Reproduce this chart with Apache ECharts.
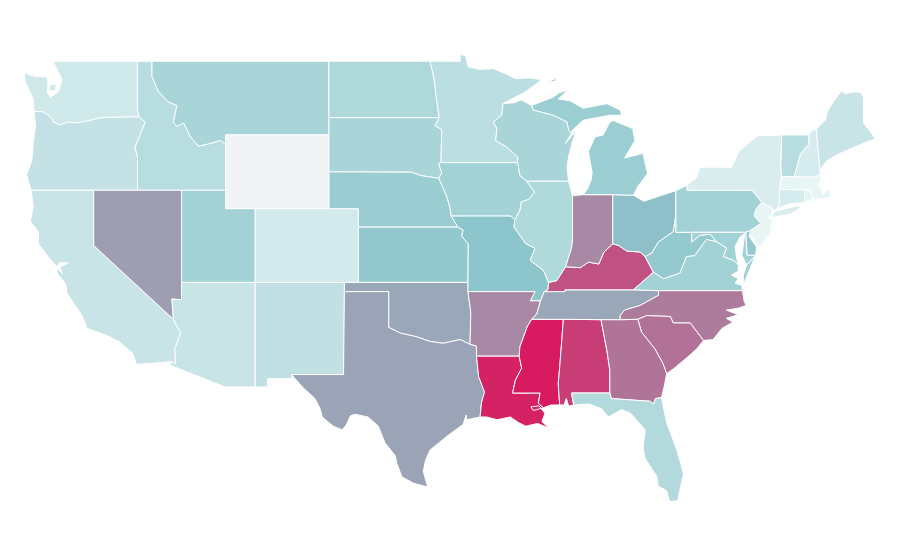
<!DOCTYPE html>
<html>
<head>
<meta charset="utf-8">
<title>US states</title>
<style>
  html, body { margin: 0; padding: 0; background: #fff; }
  #main { width: 900px; height: 560px; }
</style>
<script src="https://cdn.jsdelivr.net/npm/echarts@6/dist/echarts.min.js"></script>
</head>
<body>
<div id="main"></div>
<script>
// values read off the shading of each state, Wyoming has no value
var stateNames = ['Washington','Oregon','California','Idaho','Nevada','Montana','Wyoming','Utah','Colorado','Arizona',
  'New Mexico','North Dakota','South Dakota','Nebraska','Kansas','Oklahoma','Texas','Minnesota','Iowa','Missouri',
  'Arkansas','Louisiana','Mississippi','Alabama','Tennessee','Kentucky','Illinois','Indiana','Ohio','Michigan',
  'Wisconsin','West Virginia','Virginia','North Carolina','South Carolina','Georgia','Florida','Pennsylvania','New York','Vermont',
  'New Hampshire','Maine','Massachusetts','Connecticut','Rhode Island','New Jersey','Delaware','Maryland'];
var stateValues = [15,21,19,27,62,35,null,38,13,19,
  23,32,35,43,47,59,60,26,38,50,
  68,98,100,90,59,84,31,68,52,42,
  35,46,38,72,75,74,30,38,10,27,
  11,19,2,12,4,2,46,38];
var scaleColors = ['#ecf7f7','#8cc6cc','#d81b60'];
var noDataColor = '#f2f3f5';

// shared state lines as [lon, lat], one list per stretch of border or coast
var b = {
  wa_n: [[-117.04,49],[-122.76,49]],
  wa_coast: [[-122.76,49],[-122.45,48.5],[-122.15,48],[-122.4,47.35],[-122.95,47.05],[-123.15,47.3],[-123.1,47.8],[-123.15,48.15],[-124,48.17],[-124.72,48.38],[-124.65,47.9],[-124.3,47.3],[-124.1,46.9],[-124.05,46.27]],
  wa_kitsap: [[-122.95,47.75],[-122.55,47.75],[-122.6,47.4],[-123,47.4]],
  wa_or: [[-124.05,46.27],[-123.5,46.27],[-123.2,46.15],[-122.9,45.95],[-122.74,45.7],[-122.3,45.55],[-121.7,45.7],[-121.2,45.65],[-120.6,45.73],[-119.6,45.92],[-119.0,45.96],[-116.92,45.98]],
  wa_id: [[-116.92,45.98],[-117.04,46.4],[-117.04,49]],
  or_coast: [[-124.05,46.27],[-123.95,45.5],[-124.1,44.6],[-124.2,43.6],[-124.55,42.84],[-124.25,42]],
  ca_or: [[-124.25,42],[-120,42]],
  or_nv: [[-120,42],[-117.03,42]],
  or_id: [[-117.03,42],[-117.03,43.8],[-117.2,44.35],[-116.9,44.9],[-116.5,45.7],[-116.92,45.98]],
  id_n: [[-117.04,49],[-116.05,49]],
  id_mt: [[-116.05,49],[-116.05,48.15],[-115.6,47.33],[-114.95,46.8],[-114.36,46.6],[-114.6,45.7],[-114.36,45.47],[-113.9,45.65],[-113.45,44.9],[-112.9,44.4],[-112.3,44.5],[-111.4,44.7],[-111.05,44.47]],
  id_wy: [[-111.05,44.47],[-111.05,42]],
  id_ut: [[-111.05,42],[-114.04,42]],
  id_nv: [[-114.04,42],[-117.03,42]],
  mt_n: [[-116.05,49],[-104.05,49]],
  mt_nd: [[-104.05,49],[-104.05,45.94]],
  mt_sd: [[-104.05,45.94],[-104.05,45]],
  mt_wy: [[-104.05,45],[-111.05,45],[-111.05,44.47]],
  wy_sd: [[-104.05,45],[-104.05,43]],
  wy_ne: [[-104.05,43],[-104.05,41]],
  wy_co: [[-104.05,41],[-109.05,41]],
  wy_ut: [[-109.05,41],[-111.05,41],[-111.05,42]],
  nd_n: [[-104.05,49],[-97.2,49]],
  nd_mn: [[-97.2,49],[-96.95,48.2],[-96.85,47.6],[-96.75,46.9],[-96.57,45.94]],
  nd_sd: [[-96.57,45.94],[-104.05,45.94]],
  sd_mn: [[-96.57,45.94],[-96.85,45.5],[-96.4,45.3],[-96.45,43.5]],
  sd_ia: [[-96.45,43.5],[-96.6,43.45],[-96.4,42.93],[-96.6,42.65]],
  sd_ne: [[-96.6,42.65],[-97.85,42.8],[-98.45,42.98],[-104.05,43]],
  ne_ia: [[-96.6,42.65],[-96.4,42.3],[-96.05,41.64],[-95.85,41.1],[-95.75,40.6]],
  ne_mo: [[-95.75,40.6],[-95.3,40]],
  ne_ks: [[-95.3,40],[-102.05,40]],
  ne_co: [[-102.05,40],[-102.05,41],[-104.05,41]],
  ia_mn: [[-96.45,43.5],[-91.25,43.5]],
  ia_wi: [[-91.25,43.5],[-91.1,42.8],[-90.65,42.5]],
  ia_il: [[-90.65,42.5],[-90.1,41.9],[-90.5,41.5],[-91,41.37],[-91.1,40.9],[-91.45,40.4]],
  ia_mo: [[-91.45,40.4],[-91.7,40.6],[-95.75,40.6]],
  mn_n: [[-97.2,49],[-95.15,49],[-95.15,49.38],[-94.8,49.3],[-94.6,48.7],[-93.8,48.55],[-92.9,48.6],[-92,48.3],[-91.4,48.05],[-90.5,48.1],[-89.6,48],[-90.8,47.3],[-92.25,46.7]],
  mn_wi: [[-92.25,46.7],[-92.33,46.07],[-92.9,45.7],[-92.65,45.35],[-92.75,44.7],[-92,44.35],[-91.25,43.8],[-91.25,43.5]],
  wi_n: [[-92.25,46.7],[-91.5,46.75],[-91,46.9],[-90.3,46.6]],
  wi_mi: [[-90.3,46.6],[-90.2,46.35],[-88.85,46.07],[-87.9,45.7],[-87.8,45.25],[-87.6,45.1]],
  wi_lake: [[-87.6,45.1],[-88.0,44.55],[-87.25,45.25],[-87.55,44.6],[-87.8,43.8],[-87.9,43.27],[-87.8,42.5]],
  wi_il: [[-87.8,42.5],[-90.65,42.5]],
  il_lake: [[-87.8,42.5],[-87.6,41.9],[-87.53,41.7]],
  il_in: [[-87.53,41.7],[-87.53,39.3],[-87.6,38.85],[-88,37.85]],
  il_ky: [[-88,37.85],[-88.6,37.1],[-89.15,37]],
  il_mo: [[-89.15,37],[-89.5,37.65],[-90.4,38.2],[-90.07,38.85],[-90.7,39.1],[-91.5,40],[-91.45,40.4]],
  in_lake: [[-87.53,41.7],[-86.8,41.76]],
  in_mi: [[-86.8,41.76],[-84.8,41.76]],
  in_oh: [[-84.8,41.76],[-84.8,39.1]],
  in_ky: [[-84.8,39.1],[-85.4,38.65],[-85.75,38],[-86.45,38.1],[-87,37.8],[-88,37.85]],
  oh_mi: [[-84.8,41.76],[-83.4,41.73]],
  oh_lake: [[-83.4,41.73],[-82.7,41.4],[-81.4,41.75],[-80.52,41.98]],
  oh_pa: [[-80.52,41.98],[-80.52,40.64]],
  oh_wv: [[-80.52,40.64],[-80.7,39.75],[-81.7,39.2],[-82.15,38.6],[-82.6,38.4]],
  oh_ky: [[-82.6,38.4],[-82.95,38.65],[-83.85,38.7],[-84.4,39],[-84.8,39.1]],
  mi_shore: [[-86.8,41.76],[-86.5,42.1],[-86.25,42.6],[-86.2,43],[-86.35,43.6],[-86.45,44.1],[-86,44.9],[-85.45,45],[-85,45.7],[-84.75,45.78],[-83.45,45.35],[-83.3,44.7],[-84,43.75],[-82.75,44],[-82.45,42.9],[-83.1,42.2],[-83.4,41.73]],
  mi_up: [[-90.3,46.6],[-88.85,47.05],[-88.4,47.3],[-87.85,47.43],[-88.5,46.95],[-87.7,46.85],[-86.8,46.45],[-85.2,46.7],[-84.3,46.35],[-84.2,46.07],[-85,46.07],[-86.8,45.8],[-87.55,45.25],[-87.6,45.1]],
  mi_royale: [[-89.2,47.87],[-88.55,48.12],[-88.75,47.9]],
  ky_wv: [[-82.6,38.4],[-82.05,37.55]],
  ky_va: [[-82.05,37.55],[-83.4,36.6]],
  ky_tn: [[-83.4,36.6],[-88.05,36.6],[-88.05,36.5],[-89.45,36.5]],
  ky_mo: [[-89.45,36.5],[-89.2,36.6],[-89.15,37]],
  mo_tn: [[-89.45,36.5],[-89.7,36]],
  mo_ar: [[-89.7,36],[-90.4,36],[-90.07,36.5],[-94.62,36.5]],
  mo_ok: [[-94.62,36.5],[-94.62,37]],
  mo_ks: [[-94.62,37],[-94.6,39.1],[-95.05,39.5],[-94.95,39.85],[-95.3,40]],
  ks_ok: [[-94.62,37],[-102.05,37]],
  ks_co: [[-102.05,37],[-102.05,40]],
  co_ok: [[-102.05,37],[-103,37]],
  co_nm: [[-103,37],[-109.05,37]],
  co_ut: [[-109.05,37],[-109.05,41]],
  ut_az: [[-109.05,37],[-114.04,37]],
  ut_nv: [[-114.04,37],[-114.04,42]],
  nv_az: [[-114.04,37],[-114.05,36.05],[-114.7,36.1],[-114.6,35]],
  nv_ca: [[-114.6,35],[-120,39],[-120,42]],
  ca_az: [[-114.6,35],[-114.1,34.25],[-114.5,33.4],[-114.45,32.6],[-114.75,32.7]],
  ca_coast: [[-114.75,32.7],[-117.1,32.55],[-117.35,33.15],[-118.3,33.8],[-119.2,34.15],[-120.45,34.5],[-120.8,35.2],[-121.8,36.4],[-121.9,36.9],[-122.5,37.55],[-122.42,37.78],[-122.1,37.45],[-122.3,37.85],[-121.7,38.05],[-122.3,38.1],[-122.5,37.85],[-123,38.3],[-123.75,39.1],[-123.75,39.75],[-124.3,40.3],[-124.1,41.1],[-124.25,42]],
  az_nm: [[-109.05,37],[-109.05,31.33]],
  az_s: [[-109.05,31.33],[-111.1,31.33],[-114.8,32.5],[-114.75,32.7]],
  nm_ok: [[-103,37],[-103,36.5]],
  nm_tx: [[-103,36.5],[-103.06,32],[-106.6,32]],
  nm_mex: [[-106.6,32],[-106.53,31.78],[-108.2,31.78],[-108.2,31.33],[-109.05,31.33]],
  ok_ar: [[-94.62,36.5],[-94.43,35.4],[-94.48,33.64]],
  ok_tx: [[-94.48,33.64],[-95.15,33.9],[-96.3,33.7],[-97.2,33.8],[-98.1,34.05],[-99.2,34.25],[-100,34.56],[-100,36.5],[-103,36.5]],
  tx_ar: [[-94.48,33.64],[-94.05,33.55],[-94.04,33]],
  tx_la: [[-94.04,33],[-93.9,31.9],[-93.5,31.05],[-93.7,30.5],[-93.8,29.7]],
  tx_rest: [[-93.8,29.7],[-94.7,29.55],[-94.75,29.8],[-94.95,29.3],[-96.05,28.65],[-97.2,27.9],[-97.5,27.35],[-97.65,26.75],[-97.35,25.9],[-98.3,26.1],[-99.1,26.45],[-99.45,27.2],[-99.55,27.6],[-100.25,28.3],[-100.7,29.2],[-101.4,29.7],[-102.3,29.85],[-102.6,29.75],[-102.85,29.3],[-103.15,29],[-103.75,29.2],[-104.5,29.7],[-104.65,30.15],[-105,30.7],[-105.75,31.25],[-106.6,32]],
  ar_tn: [[-89.7,36],[-89.95,35.3],[-90.3,35]],
  ar_ms: [[-90.3,35],[-90.6,34.6],[-91.1,33.5],[-91.15,33]],
  ar_la: [[-91.15,33],[-94.04,33]],
  la_ms: [[-91.15,33],[-90.98,32.35],[-91.4,31.7],[-91.6,31],[-89.73,31],[-89.85,30.45],[-89.5,30.2]],
  la_coast: [[-89.5,30.2],[-90.2,30.05],[-90.35,30.25],[-89.8,30.3],[-89.4,29.9],[-89.6,29.45],[-89.15,29.1],[-89.9,29.35],[-90.7,29.2],[-91.2,29.4],[-91.75,29.7],[-92.65,29.55],[-93.35,29.7],[-93.8,29.7]],
  ms_tn: [[-90.3,35],[-88.15,35]],
  ms_al: [[-88.15,35],[-88.4,32.4],[-88.5,31.5],[-88.4,30.35]],
  ms_coast: [[-88.4,30.35],[-89,30.35],[-89.5,30.2]],
  tn_va: [[-83.4,36.6],[-81.7,36.55]],
  tn_nc: [[-81.7,36.55],[-81.7,36.3],[-82.95,35.75],[-84,35.5],[-84.3,35.2],[-84.3,34.97]],
  tn_ga: [[-84.3,34.97],[-85.6,34.98]],
  tn_al: [[-85.6,34.98],[-88.15,35]],
  al_ga: [[-85.6,34.98],[-85.2,33.3],[-85,32.25],[-85,31]],
  al_fl: [[-85,31],[-87.6,31],[-87.45,30.35]],
  al_coast: [[-87.45,30.35],[-87.8,30.3],[-87.95,30.7],[-88.1,30.35],[-88.4,30.35]],
  ga_nc: [[-84.3,34.97],[-83.1,35]],
  ga_sc: [[-83.1,35],[-82.85,34.3],[-81.95,33.4],[-81.4,32.6],[-81.15,32.05]],
  ga_coast: [[-81.15,32.05],[-81.3,31.4],[-81.5,30.75]],
  ga_fl: [[-81.5,30.75],[-81.9,30.7],[-82.05,30.4],[-82.25,30.55],[-84.9,30.7],[-85,31]],
  fl_coast: [[-81.5,30.75],[-81.15,29.4],[-80.45,27.9],[-80,26.6],[-80.25,25.75],[-80.4,25.15],[-80.95,25.12],[-81.15,25.7],[-81.72,25.95],[-81.8,26.45],[-82.6,27.45],[-82.75,28],[-82.6,29],[-83.6,29.9],[-84.2,30.1],[-85.1,29.7],[-85.55,30.15],[-86.4,30.4],[-87.45,30.35]],
  sc_nc: [[-83.1,35],[-82.5,35.2],[-80.9,35.15],[-80.7,34.8],[-79.55,34.8],[-78.65,33.85]],
  sc_coast: [[-78.65,33.85],[-79.1,33.4],[-79.8,32.9],[-80.7,32.3],[-81.15,32.05]],
  nc_va: [[-81.7,36.55],[-76,36.55]],
  nc_coast: [[-76,36.55],[-75.9,36],[-75.75,35.75],[-76.3,35.6],[-77.1,35.5],[-76.3,35.25],[-77.1,35.05],[-76.65,34.85],[-77.4,34.5],[-78,33.9],[-78.65,33.85]],
  va_wv: [[-82.05,37.55],[-81.35,37.2],[-80.25,37.5],[-79.8,38.4],[-79.25,38.45],[-78.45,39.33],[-77.75,39.2]],
  va_md: [[-77.75,39.2],[-77.07,38.86],[-77.3,38.4],[-76.6,38.2],[-76.28,37.95]],
  va_coast: [[-76.28,37.95],[-76.3,37.6],[-76.75,37.4],[-76.3,37.2],[-76.5,36.95],[-76.05,36.85],[-76,36.55]],
  va_shore: [[-75.72,37.95],[-75.12,38.47],[-75.95,36.85],[-75.95,37.4]],
  wv_pa: [[-80.52,40.64],[-80.52,39.72],[-79.45,39.72]],
  wv_md: [[-79.45,39.72],[-79.45,39.2],[-78.9,39.55],[-78.2,39.62],[-77.75,39.2]],
  md_pa: [[-79.45,39.72],[-75.78,39.72]],
  md_de: [[-75.78,39.72],[-75.7,38.47],[-75.12,38.47]],
  md_shore: [[-75.12,38.47],[-75.72,37.95],[-76.05,38.48],[-75.97,38.93],[-75.85,39.65],[-76.17,39.47],[-76.51,38.93],[-76.4,38.32],[-76.28,37.95]],
  de_pa: [[-75.78,39.72],[-75.45,39.82]],
  de_nj: [[-75.45,39.82],[-75.55,39.5],[-75.04,38.9],[-75.12,38.47]],
  pa_lake: [[-80.52,41.98],[-79.76,42.27]],
  pa_ny: [[-79.76,42.27],[-79.76,42],[-75.35,42],[-75.05,41.7],[-74.7,41.35]],
  pa_nj: [[-74.7,41.35],[-75.1,40.95],[-75.2,40.6],[-74.75,40.2],[-75.45,39.82]],
  ny_lake: [[-79.76,42.27],[-79.1,42.7],[-78.9,43.25],[-76.75,43.25],[-76.2,44.15],[-75,44.95],[-73.35,45]],
  ny_vt: [[-73.35,45],[-73.4,43.25],[-73.35,42.75]],
  ny_ma: [[-73.35,42.75],[-73.5,42.05]],
  ny_ct: [[-73.5,42.05],[-73.5,41.25],[-73.65,41]],
  ny_sound: [[-73.65,41],[-73.9,40.85],[-73.95,41]],
  ny_nj: [[-73.95,41],[-74.7,41.35]],
  ny_li: [[-74,40.6],[-73.8,40.85],[-72.3,41.15],[-72,41.07],[-72.8,40.7],[-73.9,40.55]],
  nj_coast: [[-73.95,41],[-74.05,40.65],[-74.25,40.5],[-74,40.45],[-74.1,39.75],[-74.75,39],[-74.9,38.93],[-75.15,39.2],[-75.55,39.6],[-75.45,39.82]],
  vt_n: [[-73.35,45],[-71.5,45]],
  vt_nh: [[-71.5,45],[-71.5,44.5],[-72.05,44],[-72.4,43],[-72.5,42.73]],
  vt_ma: [[-72.5,42.73],[-73.35,42.75]],
  nh_can: [[-71.5,45],[-71.3,45.25],[-71,45.3]],
  nh_me: [[-71,45.3],[-70.75,43.1]],
  nh_coast: [[-70.75,43.1],[-70.75,42.8]],
  nh_ma: [[-70.75,42.8],[-71.3,42.7],[-72.5,42.73]],
  me_outer: [[-71,45.3],[-70.4,45.8],[-70.2,46.35],[-69.85,46.8],[-69.3,47.4],[-69.05,47.25],[-68.3,47.35],[-68,47.3],[-67.8,47.05],[-67.8,45.65],[-67.45,45.3],[-67,44.8],[-67.8,44.55],[-68.4,44.35],[-69.4,44],[-70.3,43.6],[-70.75,43.1]],
  ma_coast: [[-70.75,42.8],[-70.65,42.65],[-70.85,42.3],[-70.6,41.95],[-70.55,41.8],[-70.2,42.07],[-70,41.8],[-70,41.6],[-70.65,41.55],[-71.2,41.5]],
  ma_ri: [[-71.2,41.5],[-71.4,42.02],[-71.8,42.02]],
  ma_ct: [[-71.8,42.02],[-73.5,42.05]],
  ct_ri: [[-71.8,42.02],[-71.8,41.35]],
  ct_coast: [[-71.8,41.35],[-72.9,41.25],[-73.65,41]],
  ri_coast: [[-71.2,41.5],[-71.8,41.35]]
};

// each state is one or more rings, a leading - walks that stretch backwards
var stateRings = {
  'Washington': [['wa_n','wa_coast','wa_or','wa_id'],['wa_kitsap']],
  'Oregon': [['or_coast','ca_or','or_nv','or_id','-wa_or']],
  'California': [['ca_or','-nv_ca','ca_az','ca_coast']],
  'Idaho': [['id_n','id_mt','id_wy','id_ut','id_nv','or_id','wa_id']],
  'Nevada': [['or_nv','-id_nv','-ut_nv','nv_az','nv_ca']],
  'Montana': [['mt_n','mt_nd','mt_sd','mt_wy','-id_mt']],
  'Wyoming': [['-mt_wy','wy_sd','wy_ne','wy_co','wy_ut','-id_wy']],
  'Utah': [['-id_ut','-wy_ut','-co_ut','ut_az','ut_nv']],
  'Colorado': [['-wy_co','-ne_co','-ks_co','co_ok','co_nm','co_ut']],
  'Arizona': [['-ut_az','az_nm','az_s','-ca_az','-nv_az']],
  'New Mexico': [['-co_nm','nm_ok','nm_tx','nm_mex','-az_nm']],
  'North Dakota': [['nd_n','nd_mn','nd_sd','-mt_nd']],
  'South Dakota': [['-nd_sd','sd_mn','sd_ia','sd_ne','-wy_sd','-mt_sd']],
  'Nebraska': [['-sd_ne','ne_ia','ne_mo','ne_ks','ne_co','-wy_ne']],
  'Kansas': [['-ne_ks','-mo_ks','ks_ok','ks_co']],
  'Oklahoma': [['-co_ok','-ks_ok','-mo_ok','ok_ar','ok_tx','-nm_ok']],
  'Texas': [['-ok_tx','tx_ar','tx_la','tx_rest','-nm_tx']],
  'Minnesota': [['mn_n','mn_wi','-ia_mn','-sd_mn','-nd_mn']],
  'Iowa': [['ia_mn','ia_wi','ia_il','ia_mo','-ne_ia','-sd_ia']],
  'Missouri': [['-ia_mo','-il_mo','-ky_mo','mo_tn','mo_ar','mo_ok','mo_ks','-ne_mo']],
  'Arkansas': [['-mo_ar','ar_tn','ar_ms','ar_la','-tx_ar','-ok_ar']],
  'Louisiana': [['-ar_la','la_ms','la_coast','-tx_la']],
  'Mississippi': [['ms_tn','ms_al','ms_coast','-la_ms','-ar_ms']],
  'Alabama': [['-tn_al','al_ga','al_fl','al_coast','-ms_al']],
  'Tennessee': [['-ky_tn','tn_va','tn_nc','tn_ga','tn_al','-ms_tn','-ar_tn','-mo_tn']],
  'Kentucky': [['-in_ky','-oh_ky','ky_wv','ky_va','ky_tn','ky_mo','-il_ky']],
  'Illinois': [['-wi_il','il_lake','il_in','il_ky','il_mo','-ia_il']],
  'Indiana': [['in_lake','in_mi','in_oh','in_ky','-il_in']],
  'Ohio': [['-in_oh','oh_mi','oh_lake','oh_pa','oh_wv','oh_ky']],
  'Michigan': [['mi_shore','-oh_mi','-in_mi'],['mi_up','-wi_mi'],['mi_royale']],
  'Wisconsin': [['wi_n','wi_mi','wi_lake','wi_il','-ia_wi','-mn_wi']],
  'West Virginia': [['-oh_wv','wv_pa','wv_md','-va_wv','-ky_wv']],
  'Virginia': [['-ky_va','va_wv','va_md','va_coast','-nc_va','-tn_va'],['va_shore']],
  'North Carolina': [['nc_va','nc_coast','-sc_nc','-ga_nc','-tn_nc']],
  'South Carolina': [['sc_nc','sc_coast','-ga_sc']],
  'Georgia': [['-tn_ga','ga_nc','ga_sc','ga_coast','ga_fl','-al_ga']],
  'Florida': [['-al_fl','-ga_fl','fl_coast']],
  'Pennsylvania': [['-oh_pa','pa_lake','pa_ny','pa_nj','-de_pa','-md_pa','-wv_pa']],
  'New York': [['ny_lake','ny_vt','ny_ma','ny_ct','ny_sound','ny_nj','-pa_ny'],['ny_li']],
  'Vermont': [['vt_n','vt_nh','vt_ma','-ny_vt']],
  'New Hampshire': [['-vt_nh','nh_can','nh_me','nh_coast','nh_ma']],
  'Maine': [['me_outer','-nh_me']],
  'Massachusetts': [['-vt_ma','-nh_ma','ma_coast','ma_ri','ma_ct','-ny_ma']],
  'Connecticut': [['-ma_ct','ct_ri','ct_coast','-ny_ct']],
  'Rhode Island': [['-ma_ri','ri_coast','-ct_ri']],
  'New Jersey': [['-ny_nj','nj_coast','-pa_nj']],
  'Delaware': [['-md_de','de_pa','de_nj']],
  'Maryland': [['md_pa','md_de','md_shore','-va_md','-wv_md']]
};

function buildRing(parts) {
  var ring = [];
  parts.forEach(function (p) {
    var back = p.charAt(0) === '-';
    var line = b[back ? p.slice(1) : p].slice();
    if (back) line.reverse();
    ring = ring.concat(line);
  });
  ring.push(ring[0]);
  return ring;
}

var features = stateNames.map(function (name) {
  return {
    type: 'Feature',
    properties: { name: name },
    geometry: {
      type: 'MultiPolygon',
      coordinates: stateRings[name].map(function (parts) { return [buildRing(parts)]; })
    }
  };
});
echarts.registerMap('usa', { type: 'FeatureCollection', features: features });

var seriesData = stateNames.map(function (name, i) {
  return { name: name, value: stateValues[i] };
});

var chart = echarts.init(document.getElementById('main'));
chart.setOption({
  animation: false,
  backgroundColor: '#fff',
  tooltip: { show: false },
  visualMap: {
    show: false,
    min: 0,
    max: 100,
    inRange: { color: scaleColors }
  },
  series: [{
    type: 'map',
    map: 'usa',
    roam: false,
    aspectScale: 0.8,
    boundingCoords: [[-124.73, 49.38], [-66.95, 25.1]],
    layoutCenter: [450, 278],
    layoutSize: 852,
    label: { show: false },
    itemStyle: { areaColor: noDataColor, borderColor: '#fff', borderWidth: 1 },
    emphasis: { disabled: true },
    select: { disabled: true },
    data: seriesData
  }]
});
</script>
</body>
</html>
